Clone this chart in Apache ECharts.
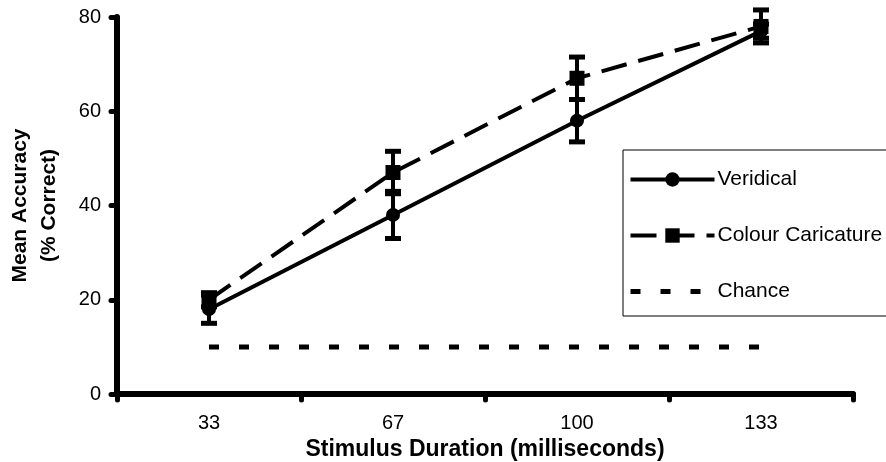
<!DOCTYPE html>
<html>
<head>
<meta charset="utf-8">
<script src="https://cdn.jsdelivr.net/npm/echarts@6/dist/echarts.min.js"></script>
<style>
  html, body { margin: 0; padding: 0; background: #fff; }
  #chart { width: 886px; height: 462px; }
</style>
</head>
<body>
<div id="chart"></div>
<script>
const durations = ['33', '67', '100', '133']
const veridical = [18, 38, 58, 77]
const veridicalErr = [3, 5, 4.5, 1.5]
const caricature = [20, 47, 67, 78]
const caricatureErr = [1.5, 4.5, 4.5, 3.5]
const chance = [10, 10, 10, 10]

const font = 'Liberation Sans'

function errorBars(values, errs) {
  return values.map((v, i) => [i, v - errs[i], v + errs[i]])
}

function renderErr(params, api) {
  const lo = api.coord([api.value(0), api.value(1)])
  const hi = api.coord([api.value(0), api.value(2)])
  const half = 8
  const capStyle = { stroke: '#000', lineWidth: 5 }
  return {
    type: 'group',
    children: [
      { type: 'line', shape: { x1: lo[0], y1: lo[1], x2: hi[0], y2: hi[1] }, style: { stroke: '#000', lineWidth: 4 } },
      { type: 'line', shape: { x1: lo[0] - half, y1: lo[1], x2: lo[0] + half, y2: lo[1] }, style: capStyle },
      { type: 'line', shape: { x1: hi[0] - half, y1: hi[1], x2: hi[0] + half, y2: hi[1] }, style: capStyle }
    ]
  }
}

const chart = echarts.init(document.getElementById('chart'))

chart.setOption({
  animation: false,
  textStyle: { fontFamily: font, color: '#000' },
  grid: { left: 117, right: 33, top: 17, bottom: 68, containLabel: false, outerBoundsMode: 'none' },
  legend: {
    orient: 'vertical',
    left: 623,
    top: 150,
    padding: [19, 40, 14, 5],
    itemWidth: 84,
    itemHeight: 18,
    itemGap: 35,
    borderColor: '#000',
    borderWidth: 1,
    textStyle: { fontFamily: font, fontSize: 21, color: '#000', padding: [0, 0, 0, -2] },
    data: [
      { name: 'Veridical', lineStyle: { width: 4 } },
      { name: 'Colour Caricature', lineStyle: { width: 4 } },
      { name: 'Chance', lineStyle: { width: 5 }, itemStyle: { opacity: 0 } }
    ]
  },
  xAxis: {
    type: 'category',
    data: durations,
    boundaryGap: true,
    name: 'Stimulus Duration (milliseconds)',
    nameLocation: 'middle',
    nameGap: 37,
    nameTextStyle: { fontFamily: font, fontSize: 23, fontWeight: 'bold', color: '#000' },
    axisLine: { lineStyle: { color: '#000', width: 6 } },
    axisTick: { show: true, length: 6, lineStyle: { color: '#000', width: 5, cap: 'round' } },
    axisLabel: { fontFamily: font, fontSize: 20, color: '#000', margin: 19 },
    splitLine: { show: false }
  },
  yAxis: {
    type: 'value',
    min: 0,
    max: 80,
    interval: 20,
    name: 'Mean Accuracy\n(% Correct)',
    nameLocation: 'middle',
    nameGap: 53,
    nameTextStyle: { fontFamily: font, fontSize: 21, fontWeight: 'bold', color: '#000', lineHeight: 29 },
    axisLine: { show: true, lineStyle: { color: '#000', width: 6 } },
    axisTick: { show: true, length: 6, lineStyle: { color: '#000', width: 5, cap: 'round' } },
    axisLabel: { fontFamily: font, fontSize: 20, color: '#000', margin: 16 },
    splitLine: { show: false }
  },
  series: [
    {
      name: 'Veridical',
      type: 'line',
      data: veridical,
      symbol: 'circle',
      symbolSize: 14,
      itemStyle: { color: '#000' },
      lineStyle: { color: '#000', width: 4 },
      z: 3
    },
    {
      name: 'Colour Caricature',
      type: 'line',
      data: caricature,
      symbol: 'rect',
      symbolSize: 15,
      itemStyle: { color: '#000' },
      lineStyle: { color: '#000', width: 4, type: [26, 12] },
      z: 3
    },
    {
      name: 'Chance',
      type: 'line',
      data: chance,
      symbol: 'none',
      itemStyle: { color: '#000' },
      lineStyle: { color: '#000', width: 5, type: [10, 20] },
      z: 2
    },
    {
      type: 'custom',
      renderItem: renderErr,
      data: errorBars(veridical, veridicalErr),
      z: 4
    },
    {
      type: 'custom',
      renderItem: renderErr,
      data: errorBars(caricature, caricatureErr),
      z: 4
    }
  ]
})
</script>
</body>
</html>
